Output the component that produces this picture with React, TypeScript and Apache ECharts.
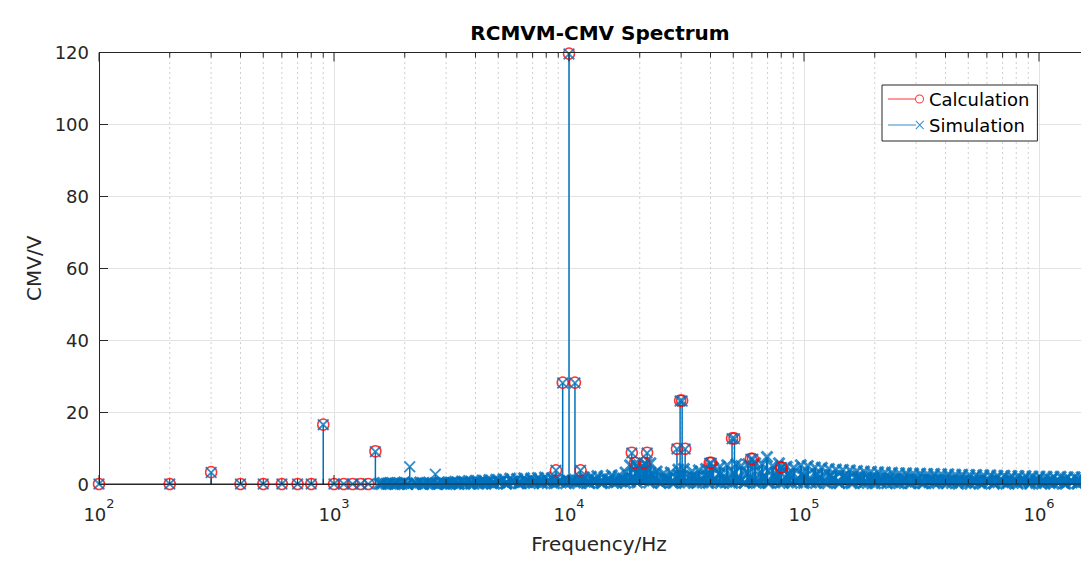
import React, { useEffect, useRef } from "react";
import * as echarts from "echarts";

// ---------- data ----------
const xMin = 100;
const xMax = 1.8e6;
const yMin = 0;
const yMax = 120;
const yStep = 20;
const xDecades = [100, 1000, 10000, 100000, 1000000];
const minorMult = [2, 3, 4, 5, 6, 7, 8, 9];

const calcFreq = [100, 200, 300, 400, 500, 600, 700, 800, 900, 1000, 1100, 1200, 1300, 1400, 1500,
  8800, 9400, 10000, 10600, 11200, 18500, 19100, 20900, 21500, 28800, 29700, 30300, 31200,
  39700, 40300, 49400, 50600, 59400, 60600, 79700, 80300];
const calcVal = [0, 0, 3.3, 0, 0, 0, 0, 0, 16.5, 0, 0, 0, 0, 0, 9.1,
  3.8, 28.2, 119.7, 28.2, 3.8, 8.7, 5.9, 5.9, 8.7, 9.8, 23.2, 23.2, 9.8,
  5.9, 5.9, 12.7, 12.7, 7.0, 7.0, 4.6, 4.6];

const simPeakFreq = [100, 200, 300, 400, 500, 600, 700, 800, 900, 1000, 1100, 1200, 1300, 1400, 1500,
  2100, 2700, 8800, 9400, 10000, 10600, 11200, 18500, 19100, 20900, 21500, 28800, 29700, 30300, 31200,
  39700, 40300, 49400, 50600, 59400, 60600, 79700, 80300];
const simPeakVal = [0, 0, 3.2, 0, 0, 0, 0, 0, 16.5, 0, 0, 0, 0, 0, 9.0,
  4.8, 2.7, 3.8, 28.1, 119.6, 28.1, 3.8, 8.6, 5.8, 5.8, 8.6, 9.7, 23.1, 23.1, 9.7,
  5.8, 5.8, 12.6, 12.6, 6.9, 6.9, 4.5, 4.5];

const simNoise: [number, number][] = [
  [1560, 0.1], [1615, 0.3], [1670, 0.1], [1730, 0.3], [1790, 0.1], [1850, 0.3], [1915, 0.1], [1985, 0.4],
  [2050, 0.1], [2170, 0.3], [2240, 0.1], [2320, 0.4], [2400, 0.1], [2480, 0.3], [2570, 0.1], [2630, 0.3],
  [2780, 0.2], [2870, 0.4], [2960, 0.1], [3060, 0.5],
  [3160, 0.2], [3270, 0.6], [3380, 0.2], [3500, 0.7], [3620, 0.2], [3740, 0.8], [3870, 0.3], [4000, 0.9],
  [4140, 0.3], [4280, 1.0], [4430, 0.3], [4580, 1.1], [4740, 0.4], [4900, 1.2], [5070, 0.4], [5250, 1.3],
  [5430, 0.4], [5620, 1.5], [5810, 0.5], [6010, 1.4], [6220, 0.5], [6440, 1.6], [6660, 0.5], [6890, 1.5],
  [7130, 0.6], [7380, 1.7], [7640, 0.6], [7900, 1.8], [8180, 0.6], [8460, 1.6], [9050, 0.7], [9700, 1.2],
  [10300, 0.8], [10900, 1.0], [11600, 1.8],
  [12000, 0.6], [12400, 2.0], [12800, 0.6], [13200, 2.2], [13700, 0.7], [14200, 2.0], [14700, 0.7],
  [15200, 2.4], [15700, 0.8], [16300, 2.2], [16800, 0.8], [17400, 3.2],
  [17900, 1.0], [18200, 5.2], [18800, 1.5], [19400, 5.0], [19700, 2.5], [20000, 4.2], [20300, 2.0],
  [20600, 4.8], [21200, 5.5], [21900, 2.0], [22200, 5.8], [22800, 2.5], [23600, 3.5],
  [24400, 0.4], [25300, 3.0], [26200, 1.5], [27100, 3.2], [28100, 0.4], [29200, 4.0], [30000, 2.0],
  [30800, 4.2], [32200, 0.4], [33400, 3.5], [34500, 1.8], [35700, 3.8], [37000, 0.4], [38300, 4.2],
  [39100, 2.0], [41000, 4.5], [42400, 0.4], [43900, 4.8], [45500, 2.0], [47100, 5.2], [48500, 0.4],
  [51600, 5.5], [52500, 2.0], [54000, 5.0], [55900, 0.4], [57800, 5.5], [62000, 5.8], [64100, 0.4],
  [66400, 5.5], [68000, 2.0], [69600, 7.5], [71300, 0.4], [73600, 5.0], [76200, 2.0], [78300, 5.8],
  [81800, 0.4], [84400, 4.8], [87400, 2.0], [90500, 4.5], [93600, 0.4], [96900, 5.2], [100300, 2.0],
  [103800, 5.0],
  [107400, 0.4], [111200, 4.6], [115100, 1.5], [119100, 4.5], [123300, 0.4], [127600, 4.2], [132100, 1.4],
  [136700, 4.0], [141500, 0.4], [146400, 3.9], [151500, 1.3], [156800, 3.8], [162300, 0.4], [168000, 3.6],
  [173900, 1.3], [180000, 3.5], [186300, 0.3], [192800, 3.4], [199600, 1.2], [206500, 3.3], [213800, 0.3],
  [221200, 3.2], [229000, 1.2], [237000, 3.1], [245300, 0.3], [253900, 3.0], [262800, 1.1], [272000, 3.0],
  [281500, 0.3], [291300, 2.9], [301500, 1.1], [312100, 2.9], [323000, 0.3], [334300, 2.8], [346000, 1.0],
  [358100, 2.8], [370700, 0.3], [383600, 2.7], [397100, 1.0], [411000, 2.7], [425300, 0.3], [440200, 2.6],
  [455600, 0.9], [471600, 2.6], [488100, 0.3], [505200, 2.5], [522900, 0.9], [541200, 2.5], [560100, 0.3],
  [579700, 2.4], [600000, 0.9], [621000, 2.4], [642700, 0.3], [665200, 2.3], [688500, 0.8], [712600, 2.3],
  [737500, 0.3], [763400, 2.2], [790100, 0.8], [817700, 2.2], [846300, 0.3], [876000, 2.2], [906600, 0.8],
  [938400, 2.1], [971200, 0.3], [1005200, 2.1], [1040400, 0.8], [1076800, 2.0], [1114500, 0.3],
  [1153500, 2.0], [1193800, 0.8], [1235600, 2.0], [1278900, 0.3], [1323600, 1.9], [1370000, 0.8],
  [1417900, 1.9], [1467500, 0.3], [1518900, 1.9], [1572100, 0.8], [1627100, 1.8], [1684000, 0.3],
  [1743000, 1.8], [1795000, 0.8],
];

// extra low-level simulation bins lying between the ones above
const simFloor: [number, number][] = [
  [1590, 0.0], [1700, 0.1], [1820, 0.0], [1950, 0.1], [2060, 0.0], [2230, 0.1], [2390, 0.0], [2560, 0.1],
  [2740, 0.0], [2930, 0.2], [3130, 0.1], [3350, 0.3], [3590, 0.1], [3840, 0.4], [4110, 0.1], [4400, 0.5],
  [4700, 0.2], [5030, 0.6], [5390, 0.2], [5760, 0.7], [6170, 0.2], [6600, 0.8], [7060, 0.3], [7550, 0.9],
  [8080, 0.3], [8650, 0.9], [9250, 0.4], [9900, 0.8], [10590, 0.4], [11330, 1.0], [12130, 0.4], [12980, 1.2],
  [13880, 0.4], [14860, 1.3], [15900, 0.5], [17010, 1.5], [18200, 0.6], [19470, 3.0], [20840, 1.0],
  [22300, 3.0], [23860, 0.8], [25530, 2.0], [27310, 0.6], [29220, 2.5], [31270, 0.8], [33460, 2.2],
  [35800, 0.6], [38310, 2.6], [40990, 0.8], [43860, 2.8], [46930, 0.6], [50210, 3.0], [53730, 0.8],
  [57490, 3.0], [61510, 0.6], [65820, 3.2], [70430, 0.8], [75360, 3.0], [80630, 0.6], [86270, 2.8],
  [92310, 0.8], [98780, 2.7], [105690, 0.6], [113090, 2.6], [121000, 0.8], [129470, 2.4], [138540, 0.6],
  [148240, 2.3], [158610, 0.7], [169720, 2.2], [181600, 0.6], [194310, 2.1], [207910, 0.7], [222460, 2.0],
  [238040, 0.5], [254700, 1.9], [272530, 0.6], [291610, 1.8], [312020, 0.5], [333860, 1.8], [357230, 0.6],
  [382240, 1.7], [409000, 0.5], [437630, 1.7], [468260, 0.6], [501040, 1.6], [536110, 0.5], [573640, 1.6],
  [613790, 0.5], [656760, 1.5], [702730, 0.5], [751920, 1.5], [804560, 0.5], [860870, 1.4], [921130, 0.5],
  [985610, 1.4], [1054600, 0.4], [1128420, 1.3], [1207410, 0.4], [1291930, 1.3], [1382360, 0.4],
  [1479130, 1.2], [1582670, 0.4], [1693450, 1.2], [1800000, 0.4],
];

// near-zero simulation bins filling the baseline band
const simBase: [number, number][] = [
  [3020, 0.0], [3200, 0.3], [3400, 0.0], [3600, 0.4], [3820, 0.1], [4050, 0.5], [4290, 0.1], [4550, 0.5],
  [4820, 0.1], [5110, 0.6], [5420, 0.1], [5740, 0.6], [6090, 0.2], [6450, 0.7], [6840, 0.2], [7250, 0.7],
  [7690, 0.2], [8150, 0.8], [8640, 0.2], [9150, 0.8], [9700, 0.2], [10280, 0.8], [10900, 0.2], [11550, 0.9],
  [12250, 0.2], [12980, 0.9], [13760, 0.2], [14590, 1.0], [15460, 0.3], [16390, 1.0], [17370, 0.3],
  [18420, 1.5], [19520, 0.4], [20690, 1.8], [21930, 0.4], [23250, 1.5], [24650, 0.3], [26120, 1.2],
  [27690, 0.3], [29350, 1.5], [31110, 0.3], [32980, 1.2], [34960, 0.3], [37060, 1.4], [39280, 0.3],
  [41640, 1.5], [44140, 0.3], [46780, 1.6], [49590, 0.3], [52570, 1.6], [55720, 0.3], [59060, 1.8],
  [62610, 0.3], [66370, 1.8], [70350, 0.3], [74570, 1.8], [79040, 0.3], [83780, 1.7], [88810, 0.3],
  [94140, 1.6], [99790, 0.3], [105780, 1.6], [112120, 0.3], [118850, 1.5], [125980, 0.2], [133540, 1.5],
  [141550, 0.2], [150050, 1.4], [159050, 0.2], [168590, 1.4], [178710, 0.2], [189430, 1.3], [200790, 0.2],
  [212840, 1.3], [225610, 0.2], [239150, 1.2], [253500, 0.2], [268710, 1.2], [284830, 0.2], [301920, 1.1],
  [320040, 0.2], [339240, 1.1], [359590, 0.2], [381170, 1.0], [404040, 0.2], [428280, 1.0], [453980, 0.1],
  [481220, 1.0], [510090, 0.1], [540700, 0.9], [573140, 0.1], [607530, 0.9], [643980, 0.1], [682620, 0.9],
  [723570, 0.1], [766990, 0.8], [813010, 0.1], [861790, 0.8], [913500, 0.1], [968310, 0.8], [1026400, 0.1],
  [1088000, 0.7], [1153300, 0.1], [1222500, 0.7], [1295800, 0.1], [1373600, 0.7], [1456000, 0.1],
  [1543300, 0.6], [1635900, 0.1], [1734100, 0.6],
];

// ---------- styles ----------
const RED = "#FF0000";
const BLUE = "#0072BD";
const AXIS = "#262626";
const FONT = "DejaVu Sans";

const crossPath = "path://M0 1.3 L1.3 0 L12 10.7 L10.7 12 Z M10.7 0 L12 1.3 L1.3 12 L0 10.7 Z";
const crossBold = "path://M0 1.9 L1.9 0 L12 10.1 L10.1 12 Z M10.1 0 L12 1.9 L1.9 12 L0 10.1 Z";
const calcIcon =
  "path://M0 0 M36 12 M0 5.5 L27 5.5 L27 6.5 L0 6.5 Z " +
  "M36 6 A4.5 4.5 0 0 0 27 6 A4.5 4.5 0 0 0 36 6 Z M35 6 A3.5 3.5 0 0 1 28 6 A3.5 3.5 0 0 1 35 6 Z";
const simIcon =
  "path://M0 0 M36 12 M0 5.5 L28 5.5 L28 6.5 L0 6.5 Z " +
  "M27.5 2.2 L28.2 1.5 L36 9.8 L35.3 10.5 Z M35.3 1.5 L36 2.2 L28.2 10.5 L27.5 9.8 Z";

export default function App() {
  const ref = useRef<HTMLDivElement>(null);

  useEffect(() => {
    if (!ref.current) return;
    const chart = echarts.init(ref.current, null, { renderer: "svg" });

    const calcData = calcFreq.map((f, i) => [f, calcVal[i]]);
    const peakData = simPeakFreq.map((f, i) => [f, simPeakVal[i]]);
    const noiseData = [
      ...simBase.map((p) => [p[0], p[1]]),
      ...simFloor.map((p) => [p[0], p[1]]),
      ...simNoise.map((p) => [p[0], p[1]]),
    ];
    const minorFreqs = xDecades
      .flatMap((d) => minorMult.map((m) => d * m))
      .filter((f) => f < xMax);
    const tickData = [
      ...xDecades.map((f) => [f, 1]),
      ...minorFreqs.map((f) => [f, 0]),
    ];

    const stemRender = (color: string, w: number) => (params: any, api: any) => {
      const x = api.value(0);
      const y = api.value(1);
      const p0 = api.coord([x, 0]);
      const p1 = api.coord([x, y]);
      return {
        type: "line",
        shape: { x1: p0[0], y1: p0[1], x2: p1[0], y2: p1[1] },
        style: { stroke: color, lineWidth: w },
      };
    };

    const option: any = {
      animation: false,
      backgroundColor: "#ffffff",
      title: {
        text: "RCMVM-CMV Spectrum",
        left: 592,
        top: 15,
        padding: 0,
        textAlign: "center",
        textStyle: { fontFamily: FONT, fontSize: 20, fontWeight: "bold", color: "#000" },
      },
      legend: {
        orient: "vertical",
        left: 874,
        top: 77,
        padding: [4, 8, 6, 6],
        itemGap: 6,
        itemWidth: 36,
        itemHeight: 12,
        backgroundColor: "#ffffff",
        borderColor: AXIS,
        borderWidth: 1,
        borderRadius: 0,
        selectedMode: false,
        textStyle: { fontFamily: FONT, fontSize: 18, color: "#000", lineHeight: 20 },
        data: [
          { name: "Calculation", icon: calcIcon, itemStyle: { color: RED, borderWidth: 0 } },
          { name: "Simulation", icon: simIcon, itemStyle: { color: BLUE, borderWidth: 0 } },
        ],
      },
      grid: { left: 91, top: 44.5, width: 1000, height: 436, containLabel: false },
      xAxis: {
        type: "log",
        logBase: 10,
        min: xMin,
        max: xMax,
        name: "Frequency/Hz",
        nameLocation: "middle",
        nameGap: 50,
        nameTextStyle: { fontFamily: FONT, fontSize: 20, color: AXIS },
        axisLine: { show: true, lineStyle: { color: AXIS, width: 1 } },
        axisTick: { show: false },
        axisLabel: {
          margin: 13,
          showMaxLabel: false,
          formatter: (v: number) => {
            const n = Math.round(Math.log10(v));
            if (Math.abs(Math.pow(10, n) - v) > 1e-6 * v) return "";
            return `{b|10}{s|${n}}`;
          },
          rich: {
            b: { fontFamily: FONT, fontSize: 18, color: AXIS, lineHeight: 26, verticalAlign: "bottom" },
            s: { fontFamily: FONT, fontSize: 13, color: AXIS, lineHeight: 26, verticalAlign: "top" },
          },
        },
        splitLine: { show: true, lineStyle: { color: "#e3e3e3", width: 1 } },
      },
      yAxis: {
        type: "value",
        min: yMin,
        max: yMax,
        interval: yStep,
        name: "CMV/V",
        nameLocation: "middle",
        nameGap: 52,
        nameTextStyle: { fontFamily: FONT, fontSize: 20, color: AXIS },
        axisLine: { show: true, lineStyle: { color: AXIS, width: 1 } },
        axisTick: { show: true, inside: true, length: 9, lineStyle: { color: AXIS } },
        axisLabel: { margin: 10, fontFamily: FONT, fontSize: 18, color: AXIS },
        splitLine: { show: true, lineStyle: { color: "#e3e3e3", width: 1 } },
      },
      series: [
        {
          name: "minorGrid",
          type: "custom",
          silent: true,
          data: minorFreqs.map((f) => [f, 0]),
          encode: { x: 0, y: 1 },
          renderItem: (params: any, api: any) => {
            const f = api.value(0);
            const b = api.coord([f, yMin]);
            const t = api.coord([f, yMax]);
            return {
              type: "line",
              shape: { x1: b[0], y1: b[1], x2: t[0], y2: t[1] },
              style: { stroke: "#cfcfcf", lineWidth: 1, lineDash: [2, 3] },
            };
          },
        },
        {
          name: "noiseStem",
          type: "custom",
          silent: true,
          data: noiseData,
          encode: { x: 0, y: 1 },
          renderItem: stemRender(BLUE, 2.6),
        },
        {
          name: "peakStem",
          type: "custom",
          silent: true,
          data: peakData,
          encode: { x: 0, y: 1 },
          renderItem: stemRender(BLUE, 1.5),
        },
        {
          name: "Simulation",
          type: "scatter",
          silent: true,
          clip: false,
          symbol: crossBold,
          symbolSize: 13,
          itemStyle: { color: BLUE },
          data: noiseData,
        },
        {
          name: "Calculation",
          type: "scatter",
          silent: true,
          clip: false,
          symbol: "circle",
          symbolSize: 11,
          itemStyle: { color: "rgba(0,0,0,0)", borderColor: RED, borderWidth: 1.5 },
          data: calcData,
        },
        {
          name: "Simulation",
          type: "scatter",
          silent: true,
          clip: false,
          symbol: crossPath,
          symbolSize: 12,
          itemStyle: { color: BLUE },
          data: peakData,
        },
        {
          name: "ticks",
          type: "custom",
          silent: true,
          z: 5,
          data: tickData,
          encode: { x: 0 },
          renderItem: (params: any, api: any) => {
            const f = api.value(0);
            const major = api.value(1) === 1;
            const b = api.coord([f, yMin]);
            const t = api.coord([f, yMax]);
            const L = major ? 9 : 5;
            const st = { stroke: AXIS, lineWidth: 1 };
            const children: any[] = [
              { type: "line", shape: { x1: b[0], y1: b[1], x2: b[0], y2: b[1] - L }, style: st },
              { type: "line", shape: { x1: t[0], y1: t[1], x2: t[0], y2: t[1] + L }, style: st },
            ];
            if (params.dataIndex === 0) {
              const l0 = api.coord([xMin, yMin]);
              const r0 = api.coord([xMax, yMin]);
              const l1 = api.coord([xMin, yMax]);
              const r1 = api.coord([xMax, yMax]);
              children.push({ type: "line", shape: { x1: l0[0], y1: l0[1], x2: r0[0], y2: r0[1] }, style: st });
              children.push({ type: "line", shape: { x1: l1[0], y1: l1[1], x2: r1[0], y2: r1[1] }, style: st });
            }
            return { type: "group", children };
          },
        },
      ],
    };

    chart.setOption(option);
    return () => chart.dispose();
  }, []);

  return (
    <div style={{ width: 1081, height: 551, overflow: "hidden", position: "relative" }}>
      <div ref={ref} style={{ width: 1200, height: 551 }} />
    </div>
  );
}
